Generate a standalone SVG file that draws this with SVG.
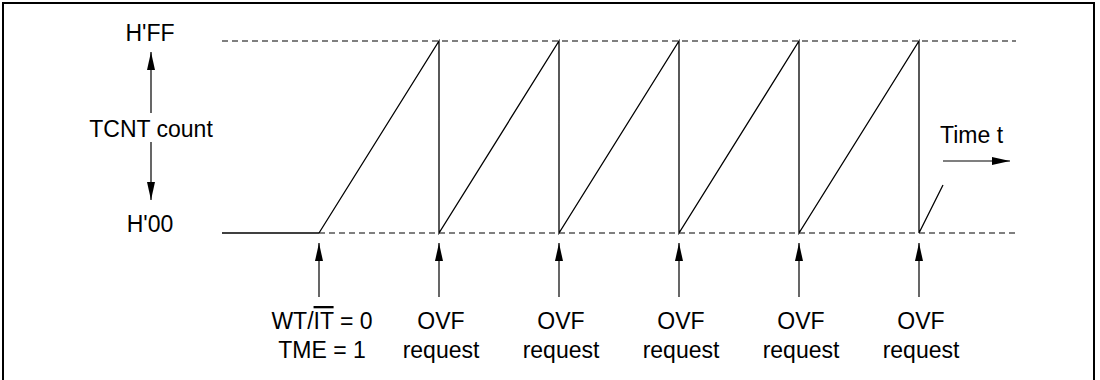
<svg xmlns="http://www.w3.org/2000/svg" width="1100" height="380" viewBox="0 0 1100 380">
<style>
text{font-family:"Liberation Sans",Arial,sans-serif;font-size:23px;fill:#000}
.ln{stroke:#000;stroke-width:1.3;fill:none}
.dash{stroke:#000;stroke-width:1.2;fill:none;stroke-dasharray:6 4}
.arr{stroke:#000;stroke-width:1.2;fill:none;marker-end:url(#ah)}
</style>
<defs>
<marker id="ah" markerUnits="userSpaceOnUse" markerWidth="19" markerHeight="9" refX="18" refY="4.5" orient="auto" viewBox="0 0 19 9">
<path d="M0,0.5 L18,4.5 L0,8.5 z" fill="#000"/>
</marker>
</defs>
<rect width="1100" height="380" fill="#fff"/>
<path d="M3,400 V3 H1094 V400" stroke="#000" stroke-width="2" fill="none"/>
<g id="guides">
<line class="dash" x1="222" y1="41" x2="1016" y2="41"/>
<line class="ln" x1="222" y1="233" x2="319" y2="233"/>
<line class="dash" x1="319" y1="233" x2="1016" y2="233"/>
</g>
<g id="waveform">
<polyline class="ln" points="319,233 439,41 439,233 559,41 559,233 679,41 679,233 799,41 799,233 919,41 919,233 943,185"/>
</g>
<g id="axis-label">
<text x="150" y="41" text-anchor="middle">H'FF</text>
<text x="151" y="137" text-anchor="middle">TCNT count</text>
<text x="150" y="232" text-anchor="middle">H'00</text>
<text x="940" y="143">Time t</text>
</g>
<g id="connectors">
<line class="arr" x1="151" y1="113" x2="151" y2="52"/>
<line class="arr" x1="151" y1="142" x2="151" y2="200"/>
<line class="arr" x1="943" y1="161" x2="1010" y2="161"/>
<line class="arr" x1="319" y1="297" x2="319" y2="243"/>
<line class="arr" x1="439" y1="297" x2="439" y2="243"/>
<line class="arr" x1="559" y1="297" x2="559" y2="243"/>
<line class="arr" x1="679" y1="297" x2="679" y2="243"/>
<line class="arr" x1="799" y1="297" x2="799" y2="243"/>
<line class="arr" x1="919" y1="297" x2="919" y2="243"/>
</g>
<g id="label-start">
<text x="322" y="329" text-anchor="middle">WT/<tspan text-decoration="overline">IT</tspan> = 0</text>
<text x="322" y="358" text-anchor="middle">TME = 1</text>
</g>
<g id="label-ovf1"><text x="441" y="329" text-anchor="middle">OVF</text><text x="441" y="358" text-anchor="middle">request</text></g>
<g id="label-ovf2"><text x="561" y="329" text-anchor="middle">OVF</text><text x="561" y="358" text-anchor="middle">request</text></g>
<g id="label-ovf3"><text x="681" y="329" text-anchor="middle">OVF</text><text x="681" y="358" text-anchor="middle">request</text></g>
<g id="label-ovf4"><text x="801" y="329" text-anchor="middle">OVF</text><text x="801" y="358" text-anchor="middle">request</text></g>
<g id="label-ovf5"><text x="921" y="329" text-anchor="middle">OVF</text><text x="921" y="358" text-anchor="middle">request</text></g>
</svg>
